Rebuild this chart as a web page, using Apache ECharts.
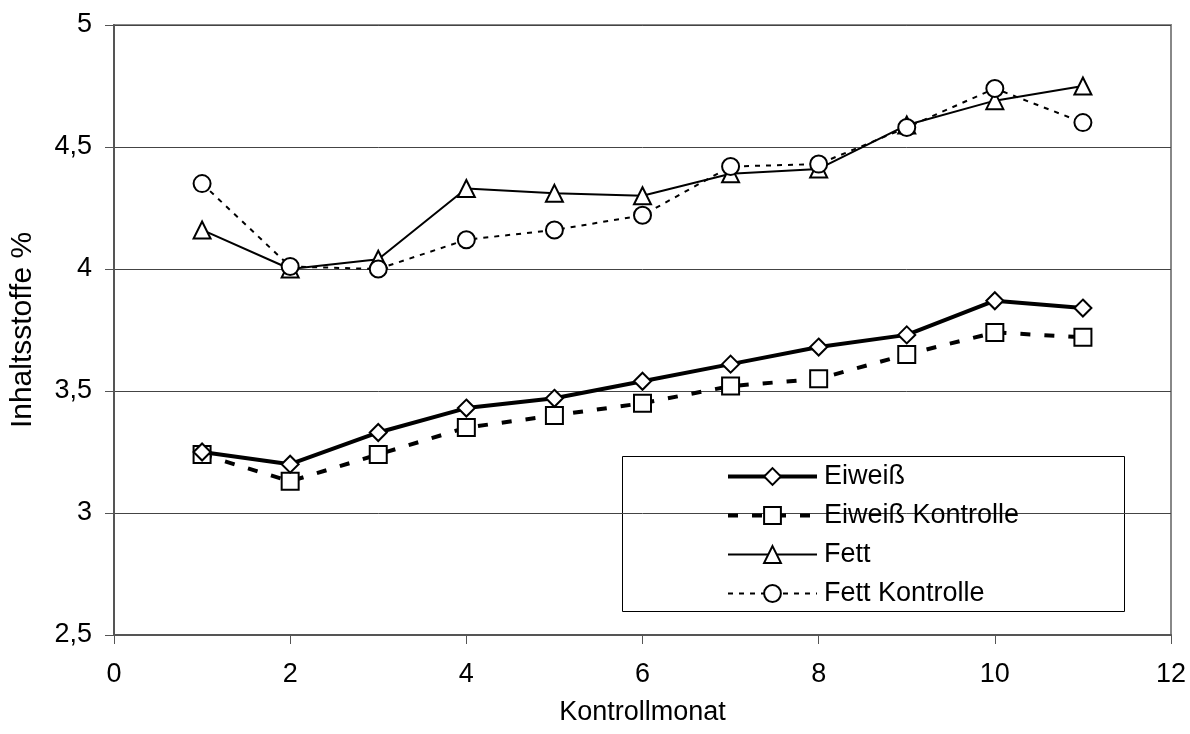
<!DOCTYPE html>
<html>
<head>
<meta charset="utf-8">
<script src="https://cdn.jsdelivr.net/npm/echarts@6/dist/echarts.min.js"></script>
<style>html,body{margin:0;padding:0;background:#fff}#c{width:1190px;height:734px}</style>
</head>
<body>
<div id="c"></div>
<script>
var months = [1, 2, 3, 4, 5, 6, 7, 8, 9, 10, 11];
var eiweiss = [3.25, 3.20, 3.33, 3.43, 3.47, 3.54, 3.61, 3.68, 3.73, 3.87, 3.84];
var eiweissKontrolle = [3.24, 3.13, 3.24, 3.35, 3.40, 3.45, 3.52, 3.55, 3.65, 3.74, 3.72];
var fett = [4.16, 4.00, 4.04, 4.33, 4.31, 4.30, 4.39, 4.41, 4.59, 4.69, 4.75];
var fettKontrolle = [4.35, 4.01, 4.00, 4.12, 4.16, 4.22, 4.42, 4.43, 4.58, 4.74, 4.60];
var seriesNames = ['Eiweiß', 'Eiweiß Kontrolle', 'Fett', 'Fett Kontrolle'];

function pairs(vals) { return months.map(function (m, i) { return [m, vals[i]]; }); }

var font = 'Liberation Sans, Arial, sans-serif';
var chart = echarts.init(document.getElementById('c'), null, {renderer: 'canvas'});

var styles = [
  {symbol: 'diamond', width: 4, type: 'solid', z: 4},
  {symbol: 'rect', width: 4, type: [10, 14], z: 3},
  {symbol: 'triangle', width: 2, type: 'solid', z: 2},
  {symbol: 'circle', width: 2, type: [5, 6], z: 5}
];
var values = [eiweiss, eiweissKontrolle, fett, fettKontrolle];

var series = seriesNames.map(function (name, i) {
  var s = styles[i];
  return {
    name: name, type: 'line', data: pairs(values[i]), symbol: s.symbol, symbolSize: 17,
    z: s.z,
    lineStyle: {color: '#000', width: s.width, type: s.type},
    itemStyle: {color: '#fff', borderColor: '#000', borderWidth: 2},
    emphasis: {disabled: true}
  };
});

var legendData = seriesNames.map(function (name, i) {
  return {
    name: name,
    lineStyle: {color: '#000', width: styles[i].width, type: styles[i].type},
    itemStyle: {color: '#fff', borderColor: '#000', borderWidth: 2}
  };
});

chart.setOption({
  animation: false,
  backgroundColor: '#fff',
  grid: {left: 114, right: 19, top: 25, bottom: 99, show: true, borderColor: '#888', borderWidth: 2, backgroundColor: 'transparent'},
  xAxis: {
    type: 'value', min: 0, max: 12, interval: 2,
    name: 'Kontrollmonat', nameLocation: 'middle', nameGap: 64,
    nameTextStyle: {fontFamily: font, fontSize: 27, color: '#000'},
    axisLine: {show: true, onZero: false, lineStyle: {color: '#555', width: 2}},
    axisTick: {show: true, length: 9, inside: false, lineStyle: {color: '#555', width: 1}},
    axisLabel: {fontFamily: font, fontSize: 27, color: '#000', margin: 26},
    splitLine: {show: false}
  },
  yAxis: {
    type: 'value', min: 2.5, max: 5, interval: 0.5,
    name: 'Inhaltsstoffe %', nameLocation: 'middle', nameGap: 76, nameRotate: 90,
    nameTextStyle: {fontFamily: font, fontSize: 30, color: '#000'},
    axisLine: {show: true, lineStyle: {color: '#555', width: 2}},
    axisTick: {show: true, length: 9, lineStyle: {color: '#555', width: 1}},
    axisLabel: {fontFamily: font, fontSize: 27, color: '#000', margin: 22,
      formatter: function (v) { return String(v).replace('.', ','); }},
    splitLine: {show: true, lineStyle: {color: '#444', width: 1}}
  },
  legend: {
    data: legendData, orient: 'vertical', left: 721, top: 458,
    itemWidth: 89, itemHeight: 21, itemGap: 12,
    textStyle: {fontFamily: font, fontSize: 27, lineHeight: 27, color: '#000', padding: [0, 0, 0, 2]},
    selectedMode: false, backgroundColor: 'transparent'
  },
  graphic: [{
    type: 'rect', left: 622, top: 456, z: 0,
    shape: {width: 502, height: 155},
    style: {fill: '#fff', stroke: '#000', lineWidth: 1}
  }],
  series: series
});
</script>
</body>
</html>
